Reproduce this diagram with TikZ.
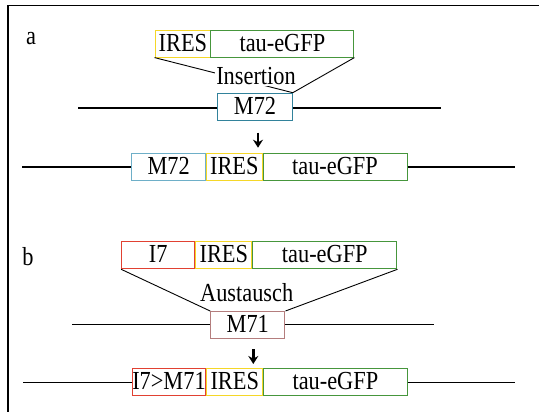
\documentclass[tikz,border=0pt]{standalone}
\usepackage{fontspec}
\setmainfont[FakeStretch=0.86]{Liberation Serif}
\usetikzlibrary{positioning,arrows.meta}
\definecolor{jaune}{RGB}{245,215,40}
\definecolor{vert}{RGB}{70,150,60}
\definecolor{bleu}{RGB}{50,130,155}
\definecolor{bleuclair}{RGB}{110,175,200}
\definecolor{rouge}{RGB}{225,65,50}
\definecolor{rose}{RGB}{180,125,125}
\tikzset{
  boite/.style={draw,line width=1pt,fill=white,inner sep=0pt,minimum height=27pt,
    text height=18.5pt,text depth=3.5pt},
  gene/.style={line width=1.2pt},
  fleche/.style={line width=2.4pt,-{Stealth[length=8pt,width=10pt]}},
}
\begin{document}
\begin{tikzpicture}[x=1pt,y=-1pt,font=\fontsize{26}{30}\selectfont]
\useasboundingbox (0,0) rectangle (539,412);
\draw[line width=1.3pt] (8,420)--(8,5.5)--(545,5.5); % le cadre
% partie a
\node (la) at (31,39) {a};
\node[boite,draw=jaune,minimum width=55.7pt] (iresA) at (182.9,43.6) {IRES};
\node[boite,draw=vert,minimum width=143pt] (tauA) at (282.4,43.6) {tau-eGFP};
\node[boite,draw=bleu,minimum width=74.6pt] (m72) at (255,106.7) {M72};
\coordinate (gA1) at (78,108);
\coordinate (gA2) at (441,108);
\draw[gene] (gA1)--(gA1 -| m72.west);
\draw[gene] (m72.east |- gA2)--(gA2);
\draw[line width=0.9pt] (iresA.south west)--(m72.north east);
\draw[line width=0.9pt] (tauA.south east)--(m72.north east);
\node[fill=white,inner sep=1pt] (ins) at (256,76) {Insertion};
\draw[fleche] ([xshift=3pt,yshift=-12pt]m72.south)--++(0,15);
\coordinate (hA1) at (22,167);
\coordinate (hA2) at (515,167);
\node[boite,draw=bleuclair,minimum width=74pt] (m72b) at (168.7,167) {M72};
\node[boite,draw=jaune,minimum width=55.3pt,right=0pt of m72b] (iresB) {IRES};
\node[boite,draw=vert,minimum width=144pt,right=0pt of iresB] (tauB) {tau-eGFP};
\draw[gene] (hA1)--(m72b.west);
\draw[gene] (tauB.east)--(hA2);
% partie b
\node (lb) at (28,256.5) {b};
\node[boite,draw=rouge,minimum width=73.3pt] (i7) at (158.3,255.3) {I7};
\node[boite,draw=jaune,minimum width=55.7pt,right=0pt of i7] (iresC) {IRES};
\node[boite,draw=vert,minimum width=144.3pt,right=0pt of iresC] (tauC) {tau-eGFP};
\node[boite,draw=rose,minimum width=74.3pt] (m71) at (247.8,325) {M71};
\coordinate (gB1) at (72,324.3);
\coordinate (gB2) at (434,324.3);
\draw[gene] (gB1)--(gB1 -| m71.west);
\draw[gene] (m71.east |- gB2)--(gB2);
\draw[line width=0.9pt] (i7.south west)--(m71.north west);
\draw[line width=0.9pt] (tauC.south east)--(m71.north east);
\node[fill=white,inner sep=1pt] (aus) at (246.7,293) {Austausch};
\draw[fleche] ([xshift=5.5pt,yshift=-10pt]m71.south)--++(0,15);
\coordinate (hB1) at (23,382.3);
\coordinate (hB2) at (515,382.3);
\node[boite,draw=rouge,minimum width=73.4pt] (i7m71) at (169,382.3) {I7>M71};
\node[boite,draw=jaune,minimum width=56pt,right=0pt of i7m71] (iresD) {IRES};
\node[boite,draw=vert,minimum width=143.3pt,right=0pt of iresD] (tauD) {tau-eGFP};
\draw[gene] (hB1)--(i7m71.west);
\draw[gene] (tauD.east)--(hB2);
\end{tikzpicture}
\end{document}
